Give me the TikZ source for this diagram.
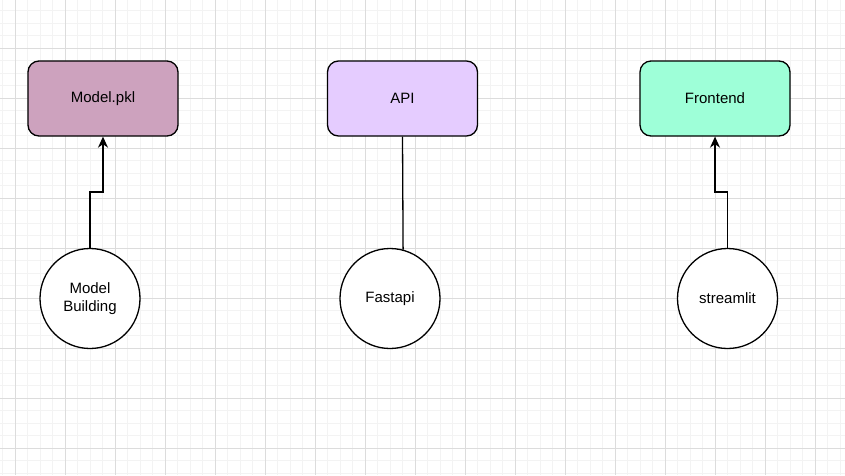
\documentclass[tikz,border=0pt]{standalone}
\usepackage{fontspec}
\setmainfont{Liberation Sans}
\usetikzlibrary{arrows.meta}
\definecolor{pklpink}{HTML}{CDA2BE}
\definecolor{apililac}{HTML}{E5CCFF}
\definecolor{frontmint}{HTML}{9EFFD8}
\definecolor{gridminor}{HTML}{F3F3F3}
\definecolor{gridmajor}{HTML}{DCDCDC}
\newcommand{\lbl}{\fontsize{15}{18}\selectfont}

\begin{document}
\begin{tikzpicture}[x=1pt,y=-1pt,line width=1.3pt,
   block/.style={draw=black,rounded corners=11pt,minimum width=150pt,minimum height=75pt,font=\lbl},
   tool/.style={draw=black,fill=white,circle,minimum size=100pt,inner sep=0pt,align=center,font=\lbl},
   link/.style={draw=black,-{Stealth[length=11pt,width=10pt,inset=3.5pt]}}]
   \useasboundingbox[fill=white] (0,0) rectangle (845,475);
   % background grid
   \foreach \i in {0,...,67}
     \draw[gridminor,line width=0.8pt] ({2.8+12.5*\i},0) -- ++(0,475);
   \foreach \i in {0,...,37}
     \draw[gridminor,line width=0.8pt] (0,{10.8+12.5*\i}) -- ++(845,0);
   \foreach \i in {0,...,16}
     \draw[gridmajor,line width=0.8pt] ({15.3+50*\i},0) -- ++(0,475);
   \foreach \i in {0,...,8}
     \draw[gridmajor,line width=0.8pt] (0,{48.3+50*\i}) -- ++(845,0);

   \node[block,fill=pklpink]   (pkl)   at (103,98.5)   {Model.pkl};
   \node[block,fill=apililac]  (api)   at (402.5,98.5) {API};
   \node[block,fill=frontmint] (front) at (715,98.5)   {Frontend};

   \node[tool] (build)  at (90,298.5)    {Model\\Building};
   \node[tool] (fast)   at (390,298.5)   {Fastapi};
   \node[tool] (stream) at (727.5,298.5) {streamlit};

   \draw[link] (build.north) -- ++(0,-56) -| (pkl.south);
   \draw (api.south) -- (fast.75.5);
   \draw[link] (stream.north) -- ++(0,-56) -| (front.south);
\end{tikzpicture}
\end{document}
